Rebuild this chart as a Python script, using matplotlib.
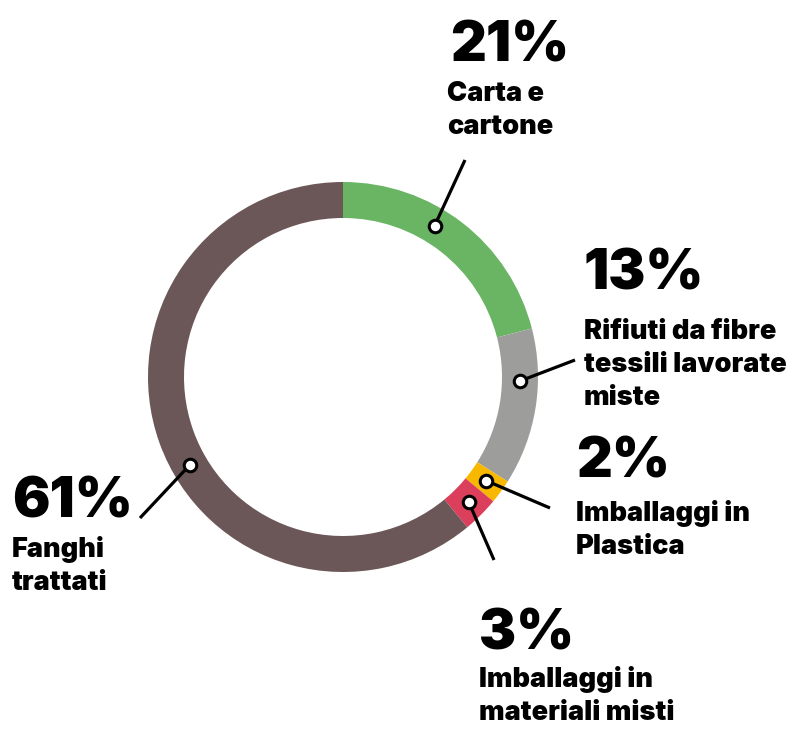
import numpy as np
import matplotlib.pyplot as plt

# data
categories = ["Carta e\ncartone", "Rifiuti da fibre\ntessili lavorate\nmiste",
              "Imballaggi in\nPlastica", "Imballaggi in\nmateriali misti", "Fanghi\ntrattati"]
values = [21, 13, 2, 3, 61]
pct_labels = ["21%", "13%", "2%", "3%", "61%"]
colors = ["#6ab564", "#9d9d9c", "#f9b800", "#db3f5c", "#6b5658"]

# layout (pixel coords, y measured from top)
W, H = 795, 731
cx, cy = 343, 377
r_out, ring = 195, 36
anchor_ang = [58.8, -1.3, -35.9, -44.8, 209.9]
line_end = [(465, 160), (575, 360), (550, 508), (494, 560), (140, 518)]
pct_pos = [(450, 61), (584, 289), (576, 477), (479, 649), (12, 517)]
lab_pos = [(447, 101), (584, 339), (576, 521), (479, 687), (12, 557)]
line_gap = 33

plt.rcParams['font.family'] = ['Inter', 'DejaVu Sans']

fig = plt.figure(figsize=(W / 100, H / 100), dpi=100)
ax = fig.add_axes([0, 0, 1, 1])

ax.pie(values, colors=colors, startangle=90, counterclock=False,
       center=(cx, H - cy), radius=r_out, frame=True,
       wedgeprops=dict(width=ring, linewidth=0))

r_mid = r_out - ring / 2
for i in range(len(values)):
    a = np.radians(anchor_ang[i])
    px, py = cx + r_mid * np.cos(a), (H - cy) + r_mid * np.sin(a)
    ex, ey = line_end[i]
    ax.plot([px, ex], [py, H - ey], color="black", lw=2.3, solid_capstyle="butt", zorder=3)
    ax.plot(px, py, marker="o", ms=9, mfc="white", mec="black", mew=2.2, zorder=4)

    x, y = pct_pos[i]
    ax.text(x, H - y, pct_labels[i], fontsize=40, fontweight="black",
            ha="left", va="baseline", color="black")
    lx, ly = lab_pos[i]
    for j, line in enumerate(categories[i].split("\n")):
        ax.text(lx, H - (ly + j * line_gap), line, fontsize=19.5, fontweight="black",
                ha="left", va="baseline", color="black")

ax.set_xlim(0, W)
ax.set_ylim(0, H)
ax.set_aspect("equal")
ax.axis("off")

fig.savefig("out.png", dpi=100)
